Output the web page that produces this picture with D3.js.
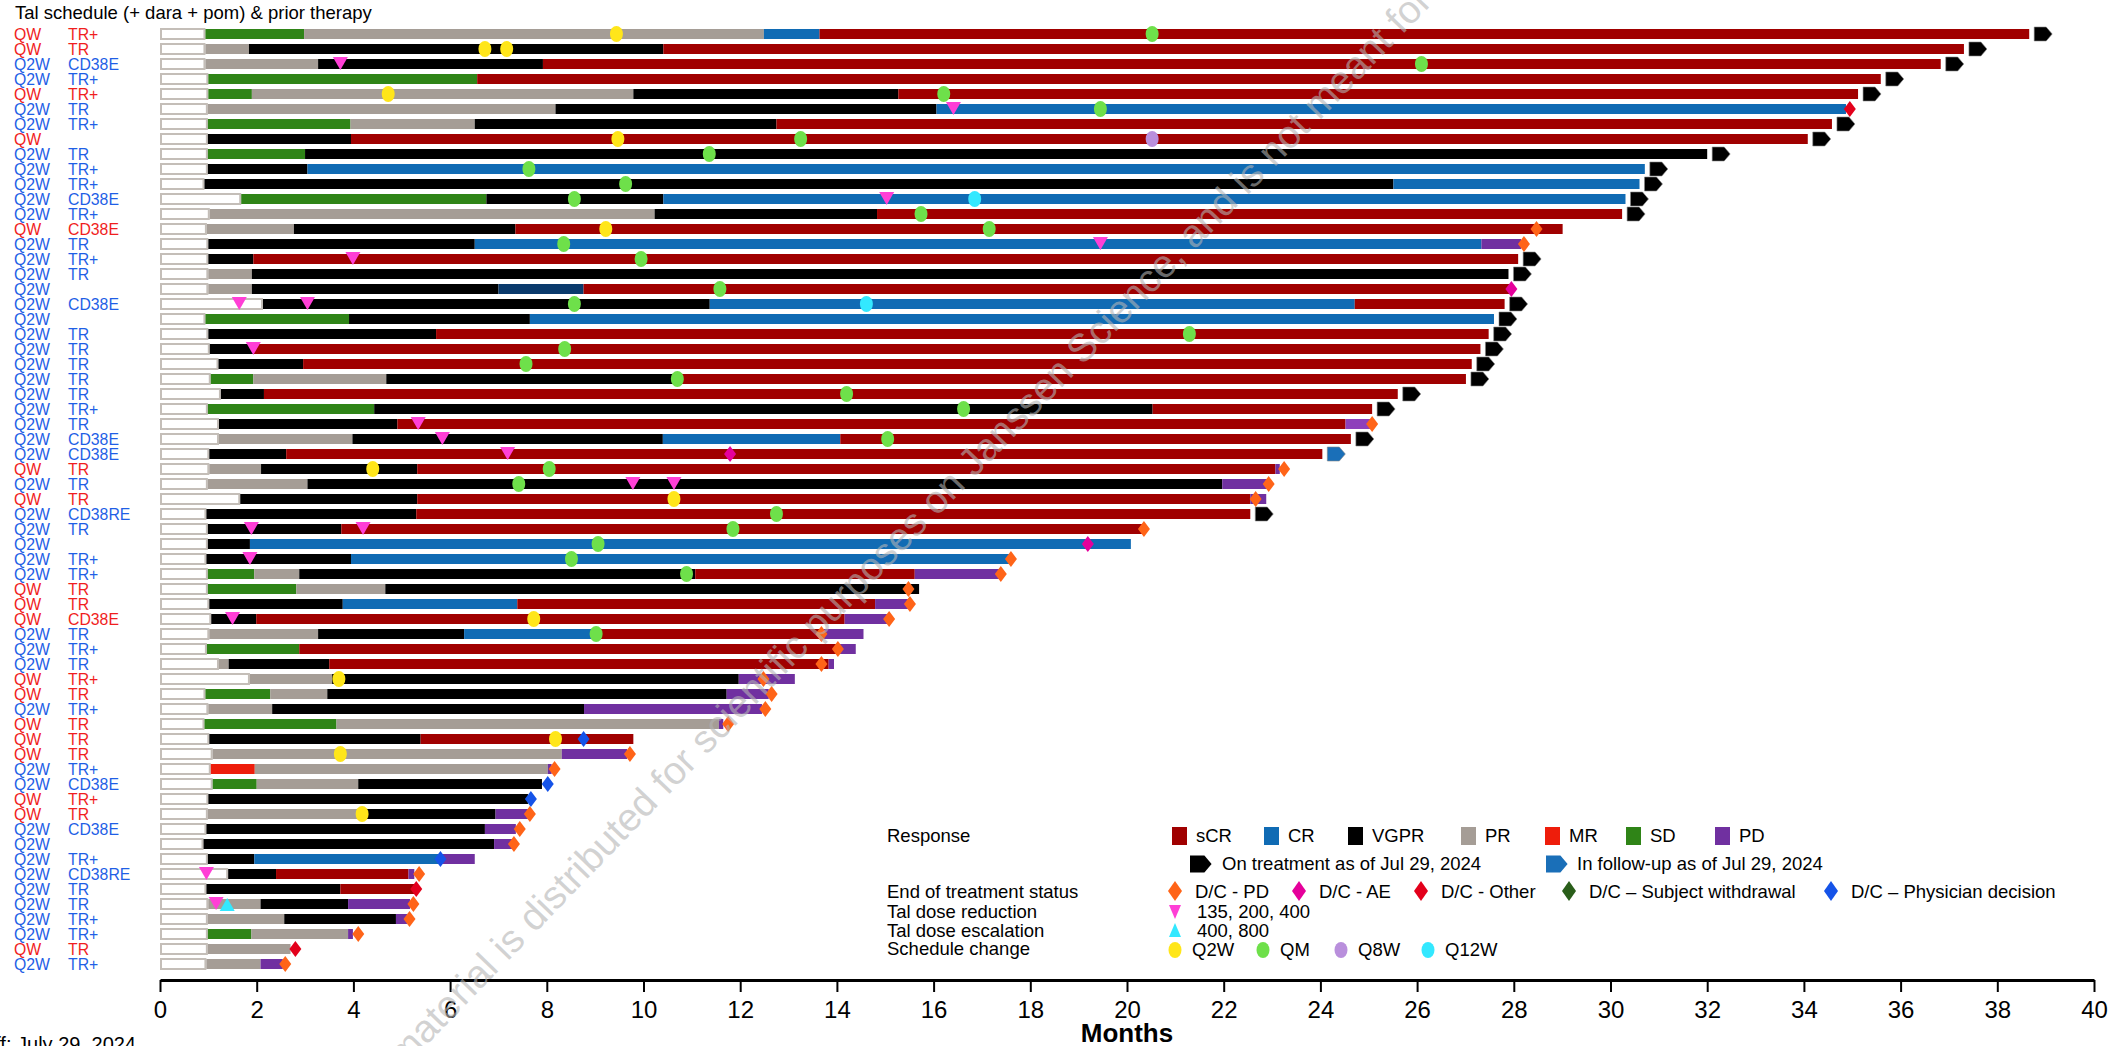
<!DOCTYPE html>
<html>
<head>
<meta charset="utf-8">
<script src="https://cdn.jsdelivr.net/npm/d3@7"></script>
<style>
  body { margin: 0; background: #fff; }
  svg { display: block; font-family: "Liberation Sans", Arial, sans-serif; }
</style>
</head>
<body>
<div id="chart"></div>
<script>
// Swimmer plot: Tal schedule (+ dara + pom) & prior therapy

const schedule = ["QW","QW","Q2W","Q2W","QW","Q2W","Q2W","QW","Q2W","Q2W","Q2W","Q2W","Q2W","QW","Q2W","Q2W","Q2W","Q2W","Q2W","Q2W",
  "Q2W","Q2W","Q2W","Q2W","Q2W","Q2W","Q2W","Q2W","Q2W","QW","Q2W","QW","Q2W","Q2W","Q2W","Q2W","Q2W","QW","QW","QW",
  "Q2W","Q2W","Q2W","QW","QW","Q2W","QW","QW","QW","Q2W","Q2W","QW","QW","Q2W","Q2W","Q2W","Q2W","Q2W","Q2W","Q2W","Q2W","QW","Q2W"];

const priorTherapy = ["TR+","TR","CD38E","TR+","TR+","TR","TR+","","TR","TR+","TR+","CD38E","TR+","CD38E","TR","TR+","TR","","CD38E","",
  "TR","TR","TR","TR","TR","TR+","TR","CD38E","CD38E","TR","TR","TR","CD38RE","TR","","TR+","TR+","TR","TR","CD38E",
  "TR","TR+","TR","TR+","TR","TR+","TR","TR","TR","TR+","CD38E","TR+","TR","CD38E","","TR+","CD38RE","TR","TR","TR+","TR+","TR","TR+"];

// end of prior-therapy box (months)
const priorEnd = [0.94,0.94,0.94,1.0,1.0,0.99,0.99,0.99,0.99,0.99,0.92,1.68,1.03,0.97,1.0,1.0,1.0,1.0,2.13,0.94,
  1.0,1.03,1.21,1.05,1.26,0.99,1.22,1.22,1.02,1.02,0.99,1.66,0.96,0.99,0.99,0.96,0.99,0.99,1.02,1.06,
  1.02,0.97,1.22,1.86,0.94,1.0,0.92,1.02,1.09,1.05,1.09,1.0,0.99,0.96,0.90,0.99,1.41,0.96,1.0,0.99,0.99,0.99,0.96];

// response segments per patient: [response, end month]
const segments = [
  [["SD",2.98],["PR",12.49],["CR",13.64],["sCR",38.66]],
  [["PR",1.84],["VGPR",10.41],["sCR",37.31]],
  [["PR",3.27],["VGPR",7.92],["sCR",36.83]],
  [["SD",6.56],["sCR",35.59]],
  [["SD",1.90],["PR",9.79],["VGPR",15.27],["sCR",35.12]],
  [["PR",8.18],["VGPR",16.06],["CR",34.87]],
  [["SD",3.94],["PR",6.51],["VGPR",12.75],["sCR",34.58]],
  [["VGPR",3.95],["sCR",34.08]],
  [["SD",3.0],["VGPR",32.0]],
  [["VGPR",3.05],["CR",30.71]],
  [["VGPR",25.51],["CR",30.6]],
  [["SD",6.75],["VGPR",10.41],["CR",30.31]],
  [["PR",10.23],["VGPR",14.83],["sCR",30.24]],
  [["PR",2.77],["VGPR",7.35],["sCR",29.01]],
  [["VGPR",6.51],["CR",27.33],["PD",28.15]],
  [["VGPR",1.93],["sCR",28.09]],
  [["PR",1.90],["VGPR",27.89]],
  [["PR",1.90],["VGPR",7.0],["CRd",8.76],["sCR",27.95]],
  [["VGPR",11.37],["CR",24.71],["sCR",27.81]],
  [["SD",3.91],["VGPR",7.65],["CR",27.59]],
  [["VGPR",5.71],["sCR",27.48]],
  [["VGPR",1.93],["sCR",27.31]],
  [["VGPR",2.96],["sCR",27.13]],
  [["SD",1.93],["PR",4.68],["VGPR",10.70],["sCR",27.01]],
  [["VGPR",2.15],["sCR",25.6]],
  [["SD",4.43],["VGPR",20.53],["sCR",25.07]],
  [["VGPR",4.91],["sCR",24.52],["PDl",25.07]],
  [["PR",3.98],["VGPR",10.4],["CR",14.07],["sCR",24.63]],
  [["VGPR",2.61],["sCR",24.04]],
  [["PR",2.09],["VGPR",5.32],["sCR",23.07],["PD",23.16]],
  [["PR",3.05],["VGPR",21.97],["PD",22.93]],
  [["VGPR",5.32],["sCR",22.55],["PD",22.88]],
  [["VGPR",5.30],["sCR",22.55]],
  [["VGPR",3.75],["sCR",20.31]],
  [["VGPR",1.86],["CR",20.08]],
  [["VGPR",3.95],["CR",17.57]],
  [["SD",1.95],["PR",2.88],["VGPR",11.07],["sCR",15.61],["PD",17.39]],
  [["SD",2.82],["PR",4.66],["VGPR",15.70]],
  [["VGPR",3.78],["CR",7.39],["sCR",14.79],["PD",15.51]],
  [["VGPR",1.99],["sCR",14.16],["PD",15.06]],
  [["PR",3.27],["VGPR",6.29],["CR",9.02],["sCR",13.71],["PD",14.55]],
  [["SD",2.88],["sCR",14.0],["PD",14.39]],
  [["PR",1.42],["VGPR",3.50],["sCR",13.83],["PD",13.94]],
  [["PR",3.56],["VGPR",11.97],["PD",13.13]],
  [["SD",2.28],["PR",3.46],["VGPR",11.72],["PD",12.59]],
  [["PR",2.32],["VGPR",8.77],["PD",12.45]],
  [["SD",3.65],["PR",11.56],["PD",11.65]],
  [["VGPR",5.39],["sCR",9.79]],
  [["PR",8.31],["PD",9.66]],
  [["MR",1.96],["PR",8.02],["PD",8.10]],
  [["SD",2.0],["PR",4.10],["VGPR",7.90]],
  [["VGPR",7.61]],
  [["PR",4.18],["VGPR",6.94],["PD",7.61]],
  [["VGPR",6.72],["PD",7.36]],
  [["VGPR",6.91],["PD",7.29]],
  [["VGPR",1.95],["CR",5.81],["PD",6.51]],
  [["VGPR",2.40],["sCR",5.14],["PD",5.26]],
  [["VGPR",3.73],["sCR",5.26]],
  [["PR",2.08],["VGPR",3.89],["PD",5.17]],
  [["PR",2.57],["VGPR",4.88],["PD",5.11]],
  [["SD",1.89],["PR",3.89],["PD",3.99]],
  [["PR",2.70]],
  [["PR",2.08],["PD",2.54]]
];

// still on treatment (black) / in follow-up (blue) as of data cut-off: [row, kind]
const ongoing = [[1,"on"],[2,"on"],[3,"on"],[4,"on"],[5,"on"],[7,"on"],[8,"on"],[9,"on"],[10,"on"],[11,"on"],
  [12,"on"],[13,"on"],[16,"on"],[17,"on"],[19,"on"],[20,"on"],[21,"on"],[22,"on"],[23,"on"],[24,"on"],
  [25,"on"],[26,"on"],[28,"on"],[29,"fu"],[33,"on"]];

// end of treatment status: [row, reason, month]
const endOfTreatment = [[6,"other",34.95],[14,"pd",28.47],[15,"pd",28.21],[18,"ae",27.95],[27,"pd",25.07],
  [29,"ae",11.79],[30,"pd",23.25],[31,"pd",22.93],[32,"pd",22.66],[34,"pd",20.35],[35,"ae",19.19],
  [36,"pd",17.6],[37,"pd",17.39],[38,"pd",15.48],[39,"pd",15.51],[40,"pd",15.08],[41,"pd",13.68],
  [42,"pd",14.02],[43,"pd",13.68],[44,"pd",12.48],[45,"pd",12.65],[46,"pd",12.52],[47,"pd",11.75],
  [48,"phys",8.76],[49,"pd",9.72],[50,"pd",8.16],[51,"phys",8.02],[52,"phys",7.67],[53,"pd",7.65],
  [54,"pd",7.44],[55,"pd",7.32],[56,"phys",5.80],[57,"pd",5.36],[58,"other",5.30],[59,"pd",5.24],
  [60,"pd",5.16],[61,"pd",4.10],[62,"other",2.80],[63,"pd",2.59]];

// schedule changes: [row, new schedule, month]
const scheduleChanges = [[1,"Q2W",9.44],[2,"Q2W",6.72],[2,"Q2W",7.17],[5,"Q2W",4.72],[8,"Q2W",9.47],[14,"Q2W",9.22],
  [30,"Q2W",4.40],[32,"Q2W",10.63],[40,"Q2W",7.73],[44,"Q2W",3.70],[48,"Q2W",8.18],[49,"Q2W",3.73],[53,"Q2W",4.18],
  [1,"QM",20.52],[3,"QM",26.09],[5,"QM",16.21],[6,"QM",19.45],[8,"QM",13.25],[9,"QM",11.36],[10,"QM",7.63],
  [11,"QM",9.63],[12,"QM",8.57],[13,"QM",15.74],[14,"QM",17.15],[15,"QM",8.35],[16,"QM",9.95],[18,"QM",11.58],
  [19,"QM",8.57],[21,"QM",21.29],[22,"QM",8.37],[23,"QM",7.57],[24,"QM",10.70],[25,"QM",14.2],[26,"QM",16.62],
  [28,"QM",15.05],[30,"QM",8.05],[31,"QM",7.42],[33,"QM",12.75],[34,"QM",11.85],[35,"QM",9.06],[36,"QM",8.51],
  [37,"QM",10.89],[41,"QM",9.02],
  [8,"Q8W",20.52],
  [12,"Q12W",16.85],[19,"Q12W",14.61]];

// tal dose reductions / escalations: [row, month]
const doseReductions = [[3,3.73],[6,16.41],[12,15.03],[15,19.45],[16,3.99],[19,1.64],[19,3.05],[22,1.93],[27,5.34],
  [28,5.84],[29,7.19],[31,9.78],[31,10.63],[34,1.89],[34,4.20],[36,1.86],[40,1.50],[57,0.96],[59,1.16]];
const doseEscalations = [[59,1.39]];

const monthTicks = d3.range(0, 41, 2);

const responseColors = {
  sCR: "#a00000", CR: "#106bb4", CRd: "#0a3a6c", VGPR: "#000000", PR: "#a59d96",
  MR: "#ee1d0b", SD: "#2f8417", PD: "#7030a0", PDl: "#8e40bb"
};
const eotColors = { pd: "#ff6418", ae: "#e5009b", other: "#e3001b", withdrawal: "#2a5e1a", phys: "#1553e8" };
const schedColors = { Q2W: "#ffe61a", QM: "#6ee04a", Q8W: "#b98fdc", Q12W: "#33e8ff" };
const labelColors = { QW: "#f01e1e", Q2W: "#1f5fe6" };

const W = 2123, H = 1046;
const svg = d3.select("#chart").append("svg").attr("width", W).attr("height", H);

const x = d3.scaleLinear().domain([0, 40]).range([160, 2094]);
const y = d3.scalePoint().domain(d3.range(1, schedule.length + 1)).range([34, 964]);
const barH = 10;

const watermark = "This material is distributed for scientific purposes on Janssen Science, and is not meant for promotional use";

// title
svg.append("text").attr("x", 15).attr("y", 19).attr("font-size", 18.5).attr("fill", "#000")
  .text("Tal schedule (+ dara + pom) & prior therapy");

// row labels
const rows = svg.append("g");
schedule.forEach((s, i) => {
  const yy = y(i + 1) + 5.5;
  rows.append("text").attr("x", 14).attr("y", yy).attr("font-size", 15.8)
    .attr("fill", labelColors[s]).text(s);
  rows.append("text").attr("x", 68).attr("y", yy).attr("font-size", 15.8)
    .attr("fill", labelColors[s]).text(priorTherapy[i]);
});

// prior therapy boxes
svg.append("g").selectAll("rect").data(priorEnd).enter().append("rect")
  .attr("x", x(0) + 1)
  .attr("y", (d, i) => y(i + 1) - 5)
  .attr("width", d => x(d) - x(0) - 2)
  .attr("height", 10)
  .attr("fill", "#fff")
  .attr("stroke", "#c4beb8")
  .attr("stroke-width", 2);

// response segments
const segData = [];
segments.forEach((segs, i) => {
  let start = priorEnd[i];
  segs.forEach(([type, end]) => {
    segData.push({ row: i + 1, type, start, end });
    start = end;
  });
});
svg.append("g").selectAll("rect").data(segData).enter().append("rect")
  .attr("x", d => x(d.start))
  .attr("y", d => y(d.row) - barH / 2)
  .attr("width", d => Math.max(0.5, x(d.end) - x(d.start)))
  .attr("height", barH)
  .attr("fill", d => responseColors[d.type]);

// marker shapes
function arrowPath(x0, cy, s = 1) {
  return `M${x0},${cy - 7 * s}L${x0 + 12 * s},${cy - 7 * s}L${x0 + 18 * s},${cy}L${x0 + 12 * s},${cy + 7 * s}L${x0},${cy + 7 * s}Z`;
}
function diamondPath(cx, cy, w = 6, h = 8) {
  return `M${cx},${cy - h}L${cx + w},${cy}L${cx},${cy + h}L${cx - w},${cy}Z`;
}
function triPath(cx, cy, down = true, w = 7.5, h = 13) {
  return down
    ? `M${cx - w},${cy - 7}L${cx + w},${cy - 7}L${cx},${cy - 7 + h}Z`
    : `M${cx - w},${cy + 7}L${cx + w},${cy + 7}L${cx},${cy + 7 - h}Z`;
}

const rowEnd = segments.map(s => s[s.length - 1][1]);

svg.append("g").selectAll("path").data(ongoing).enter().append("path")
  .attr("d", d => arrowPath(x(rowEnd[d[0] - 1]) + 5, y(d[0])))
  .attr("fill", d => d[1] === "on" ? "#000" : "#1a6fb8")
  .attr("stroke", "#888").attr("stroke-width", 0.6);

// dose changes
svg.append("g").selectAll("path").data(doseReductions).enter().append("path")
  .attr("d", d => triPath(x(d[1]), y(d[0]), true))
  .attr("fill", "#ff3fd6");
svg.append("g").selectAll("path").data(doseEscalations).enter().append("path")
  .attr("d", d => triPath(x(d[1]), y(d[0]), false))
  .attr("fill", "#33e8ff");

// schedule change
svg.append("g").selectAll("ellipse").data(scheduleChanges).enter().append("ellipse")
  .attr("cx", d => x(d[2]))
  .attr("cy", d => y(d[0]))
  .attr("rx", 6.5).attr("ry", 8)
  .attr("fill", d => schedColors[d[1]]);

// end of treatment diamonds
svg.append("g").selectAll("path").data(endOfTreatment).enter().append("path")
  .attr("d", d => diamondPath(x(d[2]), y(d[0])))
  .attr("fill", d => eotColors[d[1]]);

// x axis
const axis = svg.append("g").attr("transform", "translate(0,980)")
  .call(d3.axisBottom(x).tickValues(monthTicks).tickSize(12).tickSizeOuter(0).tickPadding(9).tickFormat(d3.format("d")));
axis.select(".domain").attr("stroke", "#000").attr("stroke-width", 3);
axis.selectAll(".tick line").attr("stroke", "#000").attr("stroke-width", 2);
axis.selectAll(".tick text").attr("font-size", 24).attr("fill", "#000")
  .attr("font-family", "Liberation Sans, Arial, sans-serif");

svg.append("text").attr("x", x(20)).attr("y", 1042).attr("text-anchor", "middle")
  .attr("font-size", 26).attr("font-weight", "bold").text("Months");

svg.append("text").attr("x", 136).attr("y", 1051).attr("text-anchor", "end")
  .attr("font-size", 20).text("Data cut-off: July 29, 2024");

// legend
const lg = svg.append("g").attr("font-size", 18.5).attr("fill", "#000");
const responseLegend = ["sCR","CR","VGPR","PR","MR","SD","PD"];
const responseLegendX = [1172,1264,1348,1461,1545,1626,1715];
lg.append("text").attr("x", 887).attr("y", 842).text("Response");
responseLegend.forEach((r, i) => {
  lg.append("rect").attr("x", responseLegendX[i]).attr("y", 827).attr("width", 15).attr("height", 18)
    .attr("fill", responseColors[r]);
  lg.append("text").attr("x", responseLegendX[i] + 24).attr("y", 842).text(r);
});

lg.append("path").attr("d", arrowPath(1190, 864, 1.2)).attr("fill", "#000");
lg.append("text").attr("x", 1222).attr("y", 870).text("On treatment as of Jul 29, 2024");
lg.append("path").attr("d", arrowPath(1546, 864, 1.2)).attr("fill", "#1a6fb8");
lg.append("text").attr("x", 1577).attr("y", 870).text("In follow-up as of Jul 29, 2024");

lg.append("text").attr("x", 887).attr("y", 898).text("End of treatment status");
const eotLegend = [["pd","D/C - PD",1175],["ae","D/C - AE",1299],["other","D/C - Other",1421],
  ["withdrawal","D/C \u2013 Subject withdrawal",1569],["phys","D/C \u2013 Physician decision",1831]];
eotLegend.forEach(([k, label, lx]) => {
  lg.append("path").attr("d", diamondPath(lx, 891, 7, 10)).attr("fill", eotColors[k]);
  lg.append("text").attr("x", lx + 20).attr("y", 898).text(label);
});

lg.append("text").attr("x", 887).attr("y", 918).text("Tal dose reduction");
lg.append("path").attr("d", triPath(1175, 912, true, 6, 14)).attr("fill", "#ff3fd6");
lg.append("text").attr("x", 1197).attr("y", 918).text("135, 200, 400");

lg.append("text").attr("x", 887).attr("y", 937).text("Tal dose escalation");
lg.append("path").attr("d", triPath(1175, 930, false, 6, 14)).attr("fill", "#33e8ff");
lg.append("text").attr("x", 1197).attr("y", 937).text("400, 800");

lg.append("text").attr("x", 887).attr("y", 955).text("Schedule change");
const schedLegend = [["Q2W",1175],["QM",1263],["Q8W",1341],["Q12W",1428]];
schedLegend.forEach(([k, lx]) => {
  lg.append("ellipse").attr("cx", lx).attr("cy", 950).attr("rx", 6.5).attr("ry", 8).attr("fill", schedColors[k]);
  lg.append("text").attr("x", lx + 17).attr("y", 956).text(k);
});

// watermark on top
svg.append("text")
  .attr("transform", "translate(345,1130) rotate(-46)")
  .attr("font-size", 39)
  .attr("fill", "#b4b4b4")
  .attr("fill-opacity", 0.6)
  .text(watermark);
</script>
</body>
</html>
